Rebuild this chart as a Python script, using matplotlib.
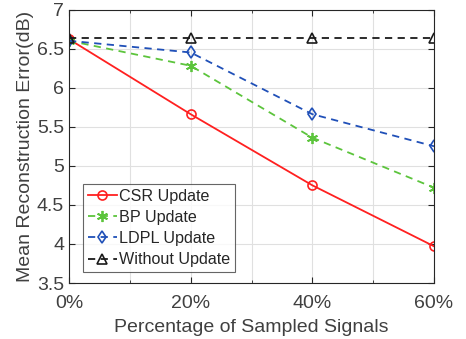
import numpy as np
import matplotlib
matplotlib.use("Agg")
import matplotlib.pyplot as plt
from matplotlib.ticker import MultipleLocator

plt.rcParams['font.family'] = ['Liberation Sans', 'DejaVu Sans']

# sampled percentage
x = [0, 20, 40, 60]
xtick_labels = ['0%', '20%', '40%', '60%']
yticks = [3.5, 4, 4.5, 5, 5.5, 6, 6.5, 7]
ytick_labels = ['3.5', '4', '4.5', '5', '5.5', '6', '6.5', '7']

csr = [6.62, 5.66, 4.75, 3.97]
bp = [6.60, 6.28, 5.36, 4.72]
ldpl = [6.60, 6.45, 5.66, 5.25]
without = [6.63, 6.63, 6.63, 6.63]

fig = plt.figure(figsize=(4.66, 3.39), dpi=100)
ax = fig.add_axes([69/466, 1 - 283/339, (434-69)/466, (283-9.5)/339])

ax.plot(x, csr, '-', color='#ff2020', lw=1.3, marker='o', ms=6.5,
        mfc='none', mew=1.2, label='CSR Update')
ax.plot(x, bp, '--', color='#5cc43c', lw=1.3, marker=(6, 2, 0), ms=8,
        mfc='none', mew=1.3, label='BP Update', dashes=(4, 3))
ax.plot(x, ldpl, '--', color='#2050b8', lw=1.3, marker='d', ms=6.5,
        mfc='none', mew=1.2, label='LDPL Update', dashes=(4, 3))
ax.plot(x, without, '--', color='#1a1a1a', lw=1.3, marker='^', ms=6.5,
        mfc='none', mew=1.2, label='Without Update', dashes=(4, 3))

ax.set_xlim(0, 60)
ax.set_ylim(3.5, 7)
ax.set_xticks(x)
ax.set_xticklabels(xtick_labels)
ax.xaxis.set_minor_locator(MultipleLocator(10))
ax.set_yticks(yticks)
ax.set_yticklabels(ytick_labels)

ax.grid(True, which='both', color='#e0e0e0', lw=0.8)
ax.set_axisbelow(True)
ax.tick_params(which='both', direction='in', top=True, right=True,
               labelsize=14, colors='#262626', length=4)
ax.tick_params(which='minor', length=2.5)
ax.tick_params(axis='x', pad=9)
for s in ax.spines.values():
    s.set_color('#262626')
    s.set_linewidth(0.8)
for lab in ax.get_xticklabels() + ax.get_yticklabels():
    lab.set_color('#404040')

ax.set_xlabel('Percentage of Sampled Signals', fontsize=14, color='#404040', labelpad=5)
ax.set_ylabel('Mean Reconstruction Error(dB)', fontsize=14, color='#404040', labelpad=2)

leg = ax.legend(loc='lower left', bbox_to_anchor=(0.038, 0.04), fontsize=11.6,
                frameon=True, fancybox=False, edgecolor='#404040',
                handlelength=1.8, handletextpad=0.15, borderpad=0.3,
                labelspacing=0.38, borderaxespad=0)
leg.get_frame().set_linewidth(0.8)
for t in leg.get_texts():
    t.set_color('#262626')

fig.savefig('out.png', dpi=100)
